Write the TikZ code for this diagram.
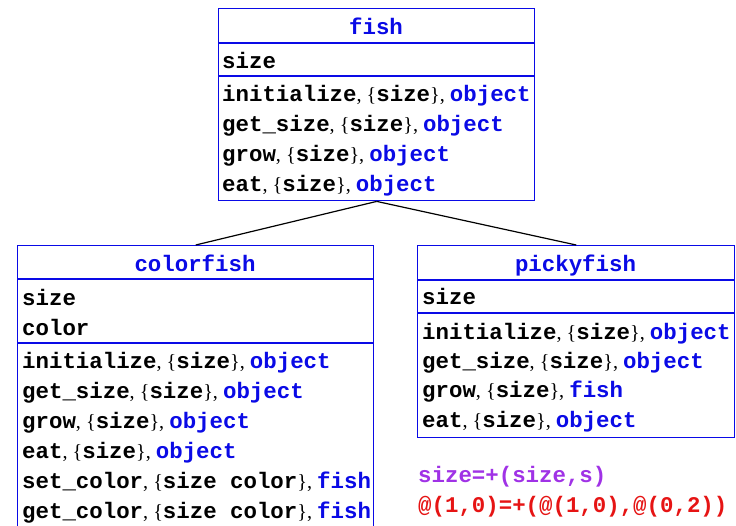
\documentclass[tikz,border=0pt]{standalone}
\usepackage{fontspec}
\setmainfont{Liberation Serif}
\newfontfamily\monof{Liberation Mono}
\definecolor{cblue}{RGB}{10,10,230}
\definecolor{cpurple}{RGB}{160,50,230}
\definecolor{cred}{RGB}{230,20,20}
\newcommand\mm[1]{{\fontsize{22.4}{26}\selectfont\monof\bfseries #1}}
\newcommand\bm[1]{\textcolor{cblue}{\mm{#1}}}
\tikzset{
  classbox/.style={draw=cblue, line width=1.4pt, anchor=north west, inner sep=0pt},
  sepline/.style={draw=cblue, line width=1.4pt},
  conn/.style={draw=black, line width=1.2pt},
  title/.style={anchor=base, inner sep=0pt, font=\fontsize{20.2}{26}\selectfont},
  row/.style={anchor=base west, inner sep=0pt, font=\fontsize{20.2}{26}\selectfont},
}
\begin{document}
\begin{tikzpicture}[x=1pt,y=-1pt]
\useasboundingbox (0,0) rectangle (736,525);
\clip (0,0) rectangle (736,525);
\fill[white] (0,0) rectangle (736,525);

% fish
\node[classbox, minimum width=316pt, minimum height=192pt] (fish) at (218,8) {};
\draw[sepline] ([yshift=-35pt]fish.north west) -- ([yshift=-35pt]fish.north east);
\draw[sepline] ([yshift=-68pt]fish.north west) -- ([yshift=-68pt]fish.north east);
\node[title] (fishT) at (376,34) {\bm{fish}};
\node[row] (fishA1) at (222,68) {\mm{size}};
\node[row] (fishM1) at (222,101) {\mm{initialize}, \{\mm{size}\}, \bm{object}};
\node[row] (fishM2) at (222,131) {\mm{get\_size}, \{\mm{size}\}, \bm{object}};
\node[row] (fishM3) at (222,161) {\mm{grow}, \{\mm{size}\}, \bm{object}};
\node[row] (fishM4) at (222,191) {\mm{eat}, \{\mm{size}\}, \bm{object}};

% colorfish
\node[classbox, minimum width=356pt, minimum height=300pt] (colorfish) at (17,245) {};
\draw[sepline] ([yshift=-34pt]colorfish.north west) -- ([yshift=-34pt]colorfish.north east);
\draw[sepline] ([yshift=-98pt]colorfish.north west) -- ([yshift=-98pt]colorfish.north east);
\node[title] (cfT) at (195,271) {\bm{colorfish}};
\node[row] (cfA1) at (22,305) {\mm{size}};
\node[row] (cfA2) at (22,335) {\mm{color}};
\node[row] (cfM1) at (22,368) {\mm{initialize}, \{\mm{size}\}, \bm{object}};
\node[row] (cfM2) at (22,398) {\mm{get\_size}, \{\mm{size}\}, \bm{object}};
\node[row] (cfM3) at (22,428) {\mm{grow}, \{\mm{size}\}, \bm{object}};
\node[row] (cfM4) at (22,458) {\mm{eat}, \{\mm{size}\}, \bm{object}};
\node[row] (cfM5) at (22,488) {\mm{set\_color}, \{\mm{size color}\}, \bm{fish}};
\node[row] (cfM6) at (22,518) {\mm{get\_color}, \{\mm{size color}\}, \bm{fish}};

% pickyfish
\node[classbox, minimum width=317pt, minimum height=192pt] (pickyfish) at (417,245) {};
\draw[sepline] ([yshift=-35pt]pickyfish.north west) -- ([yshift=-35pt]pickyfish.north east);
\draw[sepline] ([yshift=-68pt]pickyfish.north west) -- ([yshift=-68pt]pickyfish.north east);
\node[title] (pfT) at (575.5,271) {\bm{pickyfish}};
\node[row] (pfA1) at (422,304) {\mm{size}};
\node[row] (pfM1) at (422,339) {\mm{initialize}, \{\mm{size}\}, \bm{object}};
\node[row] (pfM2) at (422,368) {\mm{get\_size}, \{\mm{size}\}, \bm{object}};
\node[row] (pfM3) at (422,397) {\mm{grow}, \{\mm{size}\}, \bm{fish}};
\node[row] (pfM4) at (422,427) {\mm{eat}, \{\mm{size}\}, \bm{object}};

% formulas
\node[row, text=cpurple] (f1) at (418,482) {\mm{size=+(size,s)}};
\node[row, text=cred] (f2) at (418,512) {\mm{@(1,0)=+(@(1,0),@(0,2))}};

% connectors
\draw[conn] (fish.south) -- (colorfish.north);
\draw[conn] (fish.south) -- (pickyfish.north);
\end{tikzpicture}
\end{document}
